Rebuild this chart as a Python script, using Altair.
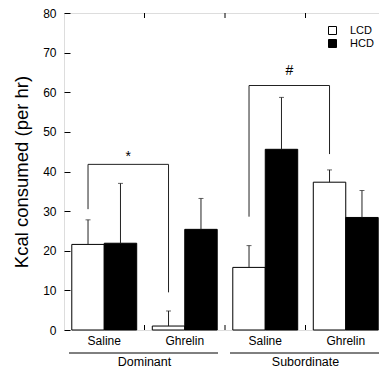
import altair as alt
import pandas as pd

FONT = "Liberation Sans"

# ---- data ----
groups = ["Dominant", "Dominant", "Subordinate", "Subordinate"]
treatments = ["Saline", "Ghrelin", "Saline", "Ghrelin"]
cats = [f"{g}|{t}" for g, t in zip(groups, treatments)]
series = ["LCD", "HCD"]
lcd_mean = [21.6, 1.0, 15.8, 37.3]
lcd_err = [6.2, 3.8, 5.5, 3.1]
hcd_mean = [21.9, 25.4, 45.6, 28.4]
hcd_err = [15.1, 7.8, 13.1, 6.8]

bracket_left = ["Dominant|Saline", "Subordinate|Saline"]
bracket_right = ["Dominant|Ghrelin", "Subordinate|Ghrelin"]
bracket_top = [41.8, 61.7]
bracket_left_low = [30.5, 28.6]
bracket_right_low = [9.5, 44.4]
bracket_marks = ["*", "#"]

group_names = ["Dominant", "Subordinate"]
group_first = ["Dominant|Saline", "Subordinate|Saline"]
group_last = ["Dominant|Ghrelin", "Subordinate|Ghrelin"]

# ---- tables ----
rows = []
for i, c in enumerate(cats):
    rows.append(dict(cat=c, series="LCD", value=lcd_mean[i], hi=lcd_mean[i] + lcd_err[i]))
    rows.append(dict(cat=c, series="HCD", value=hcd_mean[i], hi=hcd_mean[i] + hcd_err[i]))
bars_df = pd.DataFrame(rows)

vert_rows = []
for i in range(len(bracket_left)):
    vert_rows.append(dict(cat=bracket_left[i], lo=bracket_left_low[i], top=bracket_top[i]))
    vert_rows.append(dict(cat=bracket_right[i], lo=bracket_right_low[i], top=bracket_top[i]))
vert_df = pd.DataFrame(vert_rows)
horiz_df = pd.DataFrame(dict(cat=bracket_left, cat2=bracket_right, top=bracket_top, mark=bracket_marks))
bound_df = pd.DataFrame(dict(cat=cats[1:]))
group_df = pd.DataFrame(dict(cat=group_first, cat2=group_last, name=group_names))

# ---- scales ----
OUTER = 0.24
LCD_POS = (OUTER + 0.5) / (2 + 2 * OUTER)
xscale = alt.Scale(domain=cats, range=[0, 322], paddingInner=0, paddingOuter=0)
yscale = alt.Scale(domain=[0, 80], nice=False)
offscale = alt.Scale(domain=series, paddingOuter=OUTER, paddingInner=0)

x_axis = alt.Axis(title=None, domain=False, ticks=False, labelAngle=0,
                  labelExpr="split(datum.label, '|')[1]",
                  labelFontSize=12, labelPadding=5, labelColor="black", labelFont=FONT)
y_axis = alt.Axis(title="Kcal consumed (per hr)", values=list(range(0, 81, 10)),
                  domain=False, grid=False, tickSize=6, offset=-6, labelPadding=8,
                  tickColor="black", labelColor="black", labelFontSize=12, labelFont=FONT,
                  titleFontSize=18.5, titleFontWeight="normal", titleFont=FONT,
                  titleColor="black", titleX=-43, titleBaseline="alphabetic")


def X(field, **kw):
    return alt.X(field, scale=xscale, axis=x_axis, **kw)


def Y(field):
    return alt.Y(field, scale=yscale, axis=y_axis)


bars = alt.Chart(bars_df).mark_bar(stroke="black", strokeWidth=1).encode(
    x=X("cat:N"),
    xOffset=alt.XOffset("series:N", scale=offscale, sort=series),
    y=Y("value:Q"),
    fill=alt.Fill("series:N", scale=alt.Scale(domain=series, range=["white", "black"]), sort=series,
                  legend=alt.Legend(title=None, orient="none", legendX=263, legendY=12,
                                    symbolType="square", symbolSize=64, symbolStrokeColor="black",
                                    symbolStrokeWidth=1, labelFontSize=11, labelFont=FONT,
                                    labelColor="black", labelOffset=12, rowPadding=0, padding=0)),
)

err = alt.Chart(bars_df).mark_rule(color="#222", strokeWidth=1).encode(
    x=X("cat:N"),
    xOffset=alt.XOffset("series:N", scale=offscale),
    y=Y("value:Q"),
    y2="hi:Q",
)
caps = alt.Chart(bars_df).mark_tick(orient="horizontal", size=5, thickness=1, color="#222").encode(
    x=X("cat:N"),
    xOffset=alt.XOffset("series:N", scale=offscale),
    y=Y("hi:Q"),
)

vert = alt.Chart(vert_df).mark_rule(color="#222", strokeWidth=1).encode(
    x=X("cat:N", bandPosition=LCD_POS),
    y=Y("lo:Q"),
    y2="top:Q",
)
horiz = alt.Chart(horiz_df).mark_rule(color="#222", strokeWidth=1).encode(
    x=X("cat:N", bandPosition=LCD_POS),
    x2=alt.X2("cat2", bandPosition=LCD_POS),
    y=Y("top:Q"),
)
MID = (LCD_POS + 1 + LCD_POS) / 2
star = alt.Chart(horiz_df).transform_filter("datum.mark == '*'").mark_text(
    font=FONT, fontSize=14, color="black", baseline="alphabetic", dy=-3).encode(
    x=X("cat:N", bandPosition=MID),
    y=Y("top:Q"),
    text="mark:N",
)
hash_ = alt.Chart(horiz_df).transform_filter("datum.mark == '#'").mark_text(
    font=FONT, fontSize=14, color="black", baseline="alphabetic", dy=-11).encode(
    x=X("cat:N", bandPosition=MID),
    y=Y("top:Q"),
    text="mark:N",
)

top_ticks = alt.Chart(bound_df).mark_rule(color="black", strokeWidth=1).encode(
    x=X("cat:N", bandPosition=0),
    y=alt.value(0), y2=alt.value(5),
)
bot_ticks = alt.Chart(bound_df).mark_rule(color="black", strokeWidth=1).encode(
    x=X("cat:N", bandPosition=0),
    y=alt.value(312), y2=alt.value(317),
)

grp_line = alt.Chart(group_df).mark_rule(color="black", strokeWidth=1, xOffset=5, x2Offset=-7).encode(
    x=X("cat:N", bandPosition=0),
    x2=alt.X2("cat2", bandPosition=1),
    y=alt.value(340),
)
grp_text = alt.Chart(group_df).mark_text(font=FONT, fontSize=12.5, color="black", baseline="alphabetic").encode(
    x=X("cat:N", bandPosition=1),
    y=alt.value(353),
    text="name:N",
)

chart = alt.layer(bars, err, caps, vert, horiz, star, hash_, top_ticks, bot_ticks, grp_line, grp_text).properties(
    width=315, height=317,
    autosize=alt.AutoSizeParams(type="none"),
    padding={"left": 64, "top": 13, "right": 0, "bottom": 46},
).configure_view(stroke="black", strokeWidth=1).configure(font=FONT, background="white")

chart.save("out.html", embed_options={"renderer": "svg", "actions": False})
